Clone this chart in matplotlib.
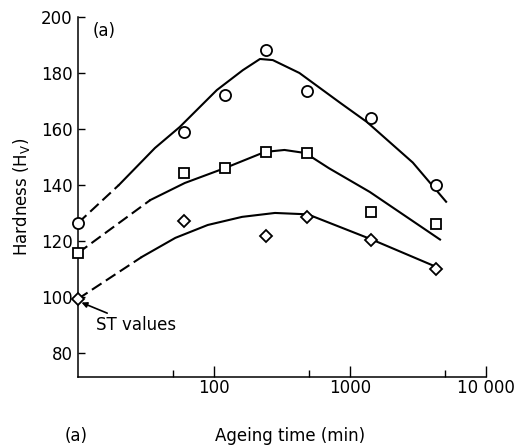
import matplotlib.pyplot as plt
from matplotlib.ticker import FixedLocator, NullFormatter

# measured hardness values
time_pts = [10, 60, 120, 240, 480, 1440, 4320]
hv_circle = [126.4, 159, 172, 188.2, 173.6, 164, 140]
hv_square = [115.7, 144.3, 146, 151.8, 151.4, 130.4, 126]
time_dia = [10, 60, 240, 480, 1440, 4320]
hv_dia = [99.3, 127, 121.8, 128.6, 120.4, 110]

# hand-drawn fit curves (dashed part, then solid)
fit_c_dash_x = [10, 20]
fit_c_dash_y = [126.4, 140]
fit_c_x = [20, 36.8, 56, 105, 163, 218, 271, 425, 850, 1333, 2900, 5100]
fit_c_y = [140, 153.2, 160.7, 173.9, 181, 185, 184.6, 180, 169.3, 162.5, 148, 134]

fit_s_dash_x = [10, 34]
fit_s_dash_y = [115.7, 134.6]
fit_s_x = [34, 61, 120, 237, 330, 470, 700, 1400, 4600]
fit_s_y = [134.6, 140.7, 146, 151.8, 152.5, 151.4, 146, 137.5, 120.5]

fit_d_dash_x = [10, 29.5]
fit_d_dash_y = [99.3, 114.3]
fit_d_x = [29.5, 52, 90, 161, 281, 490, 1450, 4480]
fit_d_y = [114.3, 121.1, 125.7, 128.6, 130, 129.5, 120.5, 110.4]

plt.rcParams['font.family'] = 'DejaVu Sans'
fig = plt.figure(figsize=(5.18, 4.47), dpi=100)
ax = fig.add_axes([0.1506, 0.1566, 0.7874, 0.8054])

lw = 1.5
dash = (0, (5.5, 2.5))
for dx, dy, sx, sy in [(fit_c_dash_x, fit_c_dash_y, fit_c_x, fit_c_y),
                       (fit_s_dash_x, fit_s_dash_y, fit_s_x, fit_s_y),
                       (fit_d_dash_x, fit_d_dash_y, fit_d_x, fit_d_y)]:
    ax.plot(dx, dy, color='black', lw=lw, linestyle=dash)
    ax.plot(sx, sy, color='black', lw=lw, solid_joinstyle='round')

mk = dict(linestyle='none', markerfacecolor='white', markeredgecolor='black',
          markeredgewidth=1.3, clip_on=False, zorder=5)
ax.plot(time_pts, hv_circle, marker='o', markersize=8, **mk)
ax.plot(time_pts, hv_square, marker='s', markersize=6.5, **mk)
ax.plot(time_dia, hv_dia, marker='D', markersize=6.5, **mk)

ax.set_xscale('log')
ax.set_xlim(10, 10000)
ax.set_ylim(71.4, 200)

ax.xaxis.set_major_locator(FixedLocator([100, 1000, 10000]))
ax.xaxis.set_minor_locator(FixedLocator([50, 500, 5000]))
ax.xaxis.set_minor_formatter(NullFormatter())
ax.set_xticklabels(['100', '1000', '10 000'])
ax.set_yticks([80, 100, 120, 140, 160, 180, 200])

ax.tick_params(axis='x', which='major', direction='in', length=8, width=1, labelsize=12, pad=1.5)
ax.tick_params(axis='x', which='minor', direction='in', length=5, width=1)
ax.tick_params(axis='y', which='major', direction='in', length=5, width=1, labelsize=12, pad=4)

for s in ['top', 'right']:
    ax.spines[s].set_visible(False)
for s in ['left', 'bottom']:
    ax.spines[s].set_linewidth(1.1)

ax.set_ylabel('Hardness (H$_\\mathregular{V}$)', fontsize=12, labelpad=6)
fig.text(0.56, 0.005, 'Ageing time (min)', fontsize=12, ha='center', va='bottom')
fig.text(0.125, 0.005, '(a)', fontsize=12, ha='left', va='bottom')
ax.text(0.035, 0.985, '(a)', transform=ax.transAxes, fontsize=12, va='top', ha='left')

ax.annotate('ST values', xy=(10.6, 98), xytext=(13.5, 90),
            fontsize=12, va='center', ha='left',
            arrowprops=dict(arrowstyle='-|>', color='black', lw=1.2,
                            mutation_scale=8, shrinkA=0, shrinkB=0))

fig.savefig('out.png', dpi=100)
